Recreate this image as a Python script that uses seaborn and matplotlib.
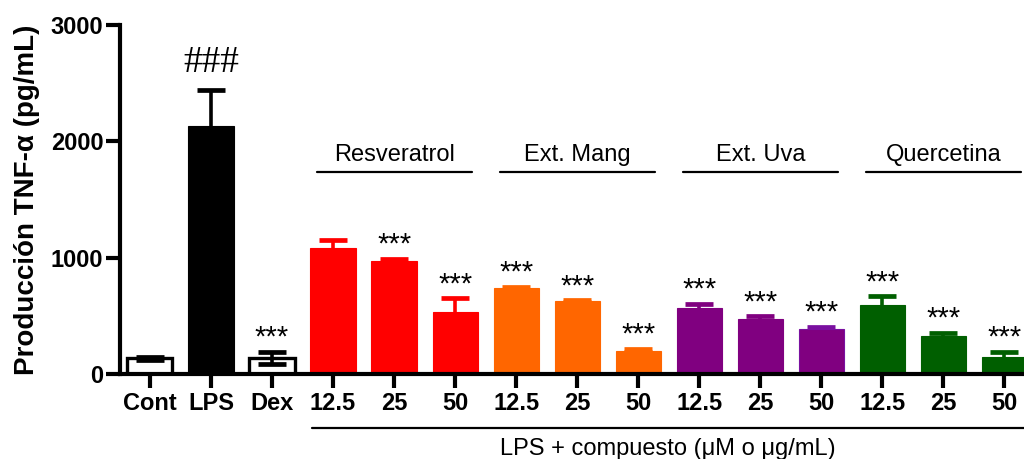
import numpy as np
import pandas as pd
import seaborn as sns
import matplotlib
matplotlib.use("Agg")
import matplotlib.pyplot as plt
import matplotlib.transforms as mtransforms

# --- data ---------------------------------------------------------------
conditions = ["Cont", "LPS", "Dex",
              "Res 12.5", "Res 25", "Res 50",
              "Mang 12.5", "Mang 25", "Mang 50",
              "Uva 12.5", "Uva 25", "Uva 50",
              "Quer 12.5", "Quer 25", "Quer 50"]
tick_labels = ["Cont", "LPS", "Dex",
               "12.5", "25", "50", "12.5", "25", "50",
               "12.5", "25", "50", "12.5", "25", "50"]
tnf_mean = [135, 2130, 140,
            1085, 970, 537,
            737, 625, 200,
            565, 470, 384,
            594, 327, 149]
tnf_sem = [15, 315, 50,
           63, 20, 114,
           15, 10, 15,
           38, 26, 23,
           74, 29, 43]
signif = ["", "###", "***",
          "", "***", "***",
          "***", "***", "***",
          "***", "***", "***",
          "***", "***", "***"]
groups = ["Resveratrol", "Ext. Mang", "Ext. Uva", "Quercetina"]
group_start = [3, 6, 9, 12]
xlabel_text = "LPS + compuesto (\u03bcM o \u03bcg/mL)"
ylabel_text = "Producción TNF-\u03b1 (pg/mL)"

fill_colors = ["white", "black", "white",
               "#ff0000", "#ff0000", "#ff0000",
               "#ff6600", "#ff6600", "#ff6600",
               "#800080", "#800080", "#800080",
               "#005f00", "#005f00", "#005f00"]
edge_colors = ["black", "black", "black",
               "#ff0000", "#ff0000", "#ff0000",
               "#ff6600", "#ff6600", "#ff6600",
               "#800080", "#800080", "#7a10a0",
               "#005f00", "#005f00", "#005f00"]

df = pd.DataFrame({"cond": conditions, "tnf": tnf_mean})

# --- style --------------------------------------------------------------
sns.set_theme(style="white")
plt.rcParams["font.family"] = ["Liberation Sans", "DejaVu Sans"]
plt.rcParams["text.color"] = "black"
plt.rcParams["axes.labelcolor"] = "black"
plt.rcParams["xtick.color"] = "black"
plt.rcParams["ytick.color"] = "black"

fig = plt.figure(figsize=(10.24, 4.59), dpi=100)
ax = fig.add_axes([120 / 1024, 1 - 374 / 459, 1 - 120 / 1024, (374 - 25) / 459])

sns.barplot(data=df, x="cond", y="tnf", hue="cond", palette=fill_colors,
            saturation=1, legend=False, errorbar=None, width=0.74, ax=ax,
            zorder=2)

x = np.arange(len(conditions))
for i, patch in enumerate(ax.patches):
    patch.set_edgecolor(edge_colors[i])
    patch.set_linewidth(2.4 if fill_colors[i] == "white" else 0.8)

# error bars (mean +/- SEM), drawn in each bar's colour
for i in x:
    ax.errorbar(i, tnf_mean[i], yerr=tnf_sem[i], fmt="none",
                ecolor=edge_colors[i], elinewidth=2.6, capsize=10,
                capthick=3.4, zorder=3 if fill_colors[i] == "white" else 1)

# significance marks above the error bars
for i in x:
    if signif[i]:
        big = signif[i].startswith("#")
        ax.annotate(signif[i], (i, tnf_mean[i] + tnf_sem[i]),
                    xytext=(0, 7 if big else 0), textcoords="offset points",
                    ha="center", va="bottom",
                    fontsize=27 if big else 21, color="black",
                    family=["Liberation Serif"] if big else ["Liberation Sans"])

# group headers with underline
for name, s in zip(groups, group_start):
    ax.plot([s - 0.27, s + 2 + 0.27], [1735, 1735], color="black",
            lw=1.6, clip_on=False)
    ax.text(s + 1, 1790, name, ha="center", va="bottom", fontsize=17)

# bracket line and caption under the treated groups
trans = mtransforms.blended_transform_factory(ax.transData, ax.transAxes)
ax.plot([group_start[0] - 0.35, len(conditions) + 1], [-0.155, -0.155],
        color="black", lw=1.6, transform=trans, clip_on=False)
ax.text((group_start[0] - 0.35 + 14.32) / 2, -0.215, xlabel_text,
        transform=trans, ha="center", va="center", fontsize=17)

# axes
ax.set_xlim(-0.49, 14.32)
ax.set_ylim(0, 3000)
ax.set_yticks([0, 1000, 2000, 3000])
ax.set_xticks(x)
ax.set_xticklabels(tick_labels)
ax.set_xlabel("")
ax.set_ylabel(ylabel_text, fontsize=20, fontweight="bold", labelpad=8)
for lab in ax.get_xticklabels() + ax.get_yticklabels():
    lab.set_fontweight("bold")
    lab.set_fontsize(17)
    lab.set_color("black")

sns.despine(ax=ax, top=True, right=True)
for side in ["left", "bottom"]:
    ax.spines[side].set_linewidth(3)
    ax.spines[side].set_color("black")
ax.tick_params(axis="both", which="major", direction="out", length=10,
               width=3, color="black", bottom=True, left=True)
ax.tick_params(axis="x", pad=3)
ax.tick_params(axis="y", pad=2)
ax.grid(False)

fig.savefig("out.png", dpi=100)
